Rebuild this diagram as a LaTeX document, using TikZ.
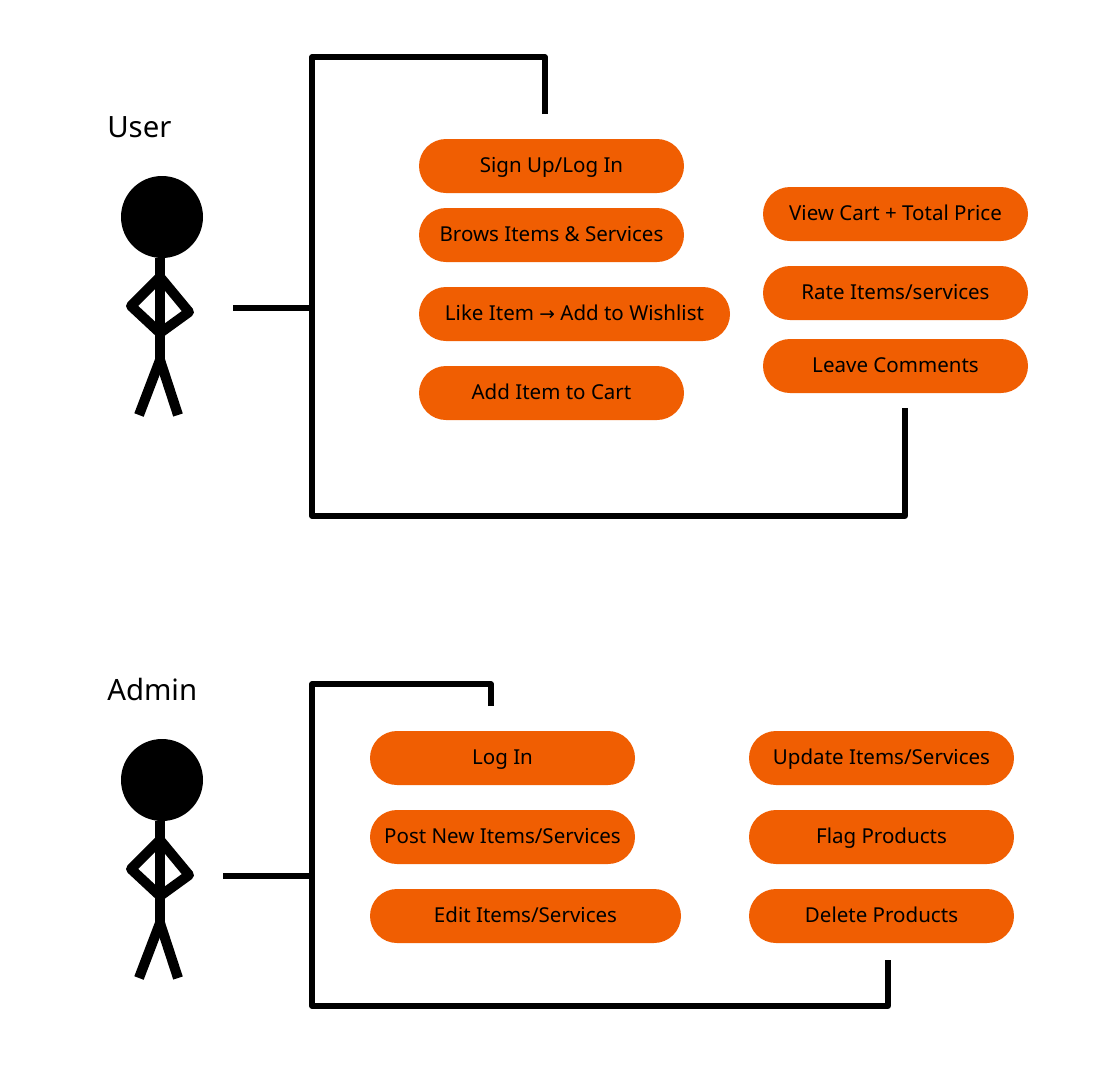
\documentclass[tikz,border=0pt]{standalone}
\usepackage{fontspec}
\setmainfont{Noto Sans}
\newfontfamily\arrowfont{DejaVu Sans}
\usetikzlibrary{shapes.misc}
\definecolor{pillorange}{HTML}{F05E02}
\tikzset{
    pill/.style = {rounded rectangle, fill=pillorange, text=black, minimum height=40.5pt, minimum width=198.75pt, inner sep=0pt, text height=13.2pt, text depth=3pt, font=\fontsize{15.4}{18}\selectfont},
    pillwide/.style = {pill, minimum width=233.25pt},
    actorname/.style = {anchor=west, inner sep=0pt, font=\fontsize{22}{29}\selectfont},
    bracket/.style = {line width=3.8pt, line join=round},
    limb/.style = {line width=7.5pt, line join=round},
    stickman/.pic = {
        \fill (2,-91) circle (41);
        \draw[limb] (0,-50) -- (0,52);
        \draw[limb] (0,-31) -- (-29,-2) -- (0,25) -- (29,4) -- cycle;
        \draw[limb] (0,52) -- (-21,107);
        \draw[limb] (0,52) -- (18,107);
    },
}
\begin{document}
\begin{tikzpicture}[x=0.75pt, y=-0.75pt]
    \useasboundingbox (0, 0) rectangle (1096, 1065);
    % user
    \node[actorname] (username) at (107, 127) {User};
    \pic at (160, 308) {stickman};
    \coordinate (userfrom) at (233, 308);
    \coordinate (userjoin) at (312, 308);
    \coordinate (usertop) at (545, 114);
    \coordinate (userend) at (905, 408);
    \draw[bracket] (userfrom) -- (userjoin);
    \draw[bracket] (usertop) -- (545, 57) -- (312, 57) -- (312, 516) -- (905, 516) -- (userend);
    \node[pill] (signup) at (551.5, 166) {Sign Up/Log In};
    \node[pill] (brows) at (551.5, 235) {Brows Items \& Services};
    \node[pillwide] (like) at (574.5, 314) {Like Item {\arrowfont\fontsize{14}{16}\selectfont →} Add to Wishlist};
    \node[pill] (addcart) at (551.5, 393) {Add Item to Cart};
    \node[pill] (viewcart) at (895.5, 214) {View Cart + Total Price};
    \node[pill] (rate) at (895.5, 293) {Rate Items/services};
    \node[pill] (comments) at (895.5, 366) {Leave Comments};
    % admin
    \node[actorname] (adminname) at (107, 689) {Admin};
    \pic at (160, 871) {stickman};
    \coordinate (adminfrom) at (223, 876);
    \coordinate (adminjoin) at (312, 876);
    \coordinate (admintop) at (491, 706);
    \coordinate (adminend) at (888, 960);
    \draw[bracket] (adminfrom) -- (adminjoin);
    \draw[bracket] (admintop) -- (491, 684) -- (312, 684) -- (312, 1006) -- (888, 1006) -- (adminend);
    \node[pill] (login) at (502.5, 758) {Log In};
    \node[pill] (post) at (502.5, 837) {Post New Items/Services};
    \node[pillwide] (edit) at (525.5, 916) {Edit Items/Services};
    \node[pill] (update) at (881.5, 758) {Update Items/Services};
    \node[pill] (flag) at (881.5, 837) {Flag Products};
    \node[pill] (delete) at (881.5, 916) {Delete Products};
\end{tikzpicture}
\end{document}
